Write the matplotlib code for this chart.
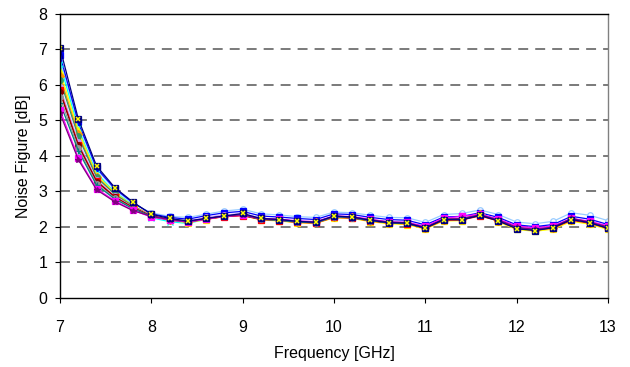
import matplotlib
matplotlib.use("Agg")
import matplotlib.pyplot as plt

plt.rcParams['font.family'] = ['Liberation Sans', 'DejaVu Sans']

# frequency sweep points [GHz]
freq = [7.0, 7.2, 7.4, 7.6, 7.8, 8.0, 8.2, 8.4, 8.6, 8.8,
        9.0, 9.2, 9.4, 9.6, 9.8, 10.0, 10.2, 10.4, 10.6, 10.8,
        11.0, 11.2, 11.4, 11.6, 11.8, 12.0, 12.2, 12.4, 12.6, 12.8, 13.0]

# noise figure [dB] per measured device
nf_01 = [7.05, 5.05, 3.72, 3.11, 2.70, 2.36, 2.24, 2.17, 2.24, 2.31, 2.38, 2.24, 2.21, 2.16, 2.13, 2.31,
         2.28, 2.19, 2.12, 2.11, 1.97, 2.21, 2.20, 2.33, 2.17, 1.95, 1.90, 1.98, 2.21, 2.12, 1.96]
nf_02 = [5.30, 3.95, 3.08, 2.74, 2.47, 2.28, 2.20, 2.14, 2.22, 2.30, 2.33, 2.24, 2.22, 2.17, 2.15, 2.31,
         2.29, 2.22, 2.14, 2.13, 2.02, 2.25, 2.30, 2.36, 2.22, 2.03, 1.97, 2.03, 2.24, 2.16, 2.03]
nf_03 = [6.40, 4.72, 3.47, 2.96, 2.60, 2.32, 2.19, 2.12, 2.21, 2.30, 2.33, 2.20, 2.17, 2.12, 2.10, 2.26,
         2.24, 2.15, 2.09, 2.07, 1.94, 2.17, 2.18, 2.40, 2.14, 1.93, 1.88, 1.94, 2.16, 2.08, 1.93]
nf_04 = [6.60, 4.78, 3.52, 2.98, 2.62, 2.26, 2.15, 2.10, 2.22, 2.30, 2.34, 2.22, 2.19, 2.14, 2.12, 2.28,
         2.26, 2.17, 2.11, 2.09, 1.97, 2.20, 2.21, 2.32, 2.18, 1.97, 1.92, 1.98, 2.19, 2.11, 1.97]
nf_05 = [5.20, 3.90, 3.05, 2.71, 2.46, 2.30, 2.21, 2.15, 2.24, 2.31, 2.34, 2.23, 2.21, 2.16, 2.14, 2.30,
         2.28, 2.20, 2.14, 2.12, 1.99, 2.22, 2.24, 2.34, 2.20, 1.99, 1.93, 2.00, 2.24, 2.14, 2.00]
nf_06 = [5.80, 4.30, 3.28, 2.84, 2.54, 2.31, 2.21, 2.15, 2.23, 2.30, 2.33, 2.22, 2.20, 2.15, 2.13, 2.29,
         2.26, 2.18, 2.12, 2.10, 1.97, 2.21, 2.22, 2.33, 2.19, 1.97, 1.92, 1.99, 2.21, 2.13, 1.98]
nf_07 = [5.50, 4.15, 3.18, 2.79, 2.51, 2.30, 2.20, 2.14, 2.23, 2.31, 2.34, 2.22, 2.19, 2.14, 2.12, 2.29,
         2.26, 2.18, 2.12, 2.10, 1.97, 2.21, 2.22, 2.34, 2.19, 1.98, 1.92, 1.99, 2.23, 2.13, 1.97]
nf_08 = [6.85, 4.95, 3.66, 3.08, 2.68, 2.37, 2.27, 2.22, 2.32, 2.40, 2.44, 2.31, 2.28, 2.24, 2.21, 2.37,
         2.35, 2.27, 2.21, 2.19, 2.06, 2.28, 2.30, 2.40, 2.27, 2.06, 2.01, 2.07, 2.30, 2.22, 2.07]
nf_09 = [5.95, 4.40, 3.33, 2.87, 2.56, 2.33, 2.23, 2.17, 2.27, 2.34, 2.38, 2.25, 2.22, 2.17, 2.15, 2.32,
         2.29, 2.21, 2.15, 2.13, 2.00, 2.24, 2.25, 2.37, 2.22, 2.00, 1.95, 2.02, 2.25, 2.16, 2.02]
nf_10 = [5.65, 4.22, 3.22, 2.81, 2.52, 2.29, 2.19, 2.14, 2.23, 2.31, 2.35, 2.22, 2.19, 2.14, 2.12, 2.28,
         2.26, 2.18, 2.12, 2.10, 1.98, 2.21, 2.23, 2.35, 2.19, 1.98, 1.93, 2.00, 2.22, 2.13, 1.99]
nf_11 = [5.85, 4.32, 3.30, 2.85, 2.55, 2.31, 2.20, 2.14, 2.22, 2.29, 2.32, 2.21, 2.18, 2.13, 2.11, 2.27,
         2.25, 2.17, 2.11, 2.09, 1.96, 2.19, 2.20, 2.31, 2.17, 1.96, 1.91, 1.97, 2.19, 2.11, 1.96]
nf_12 = [6.25, 4.62, 3.42, 2.93, 2.59, 2.33, 2.21, 2.15, 2.24, 2.32, 2.36, 2.23, 2.20, 2.15, 2.13, 2.29,
         2.27, 2.18, 2.12, 2.10, 1.97, 2.20, 2.22, 2.36, 2.18, 1.97, 1.92, 1.98, 2.20, 2.12, 1.97]
nf_13 = [6.15, 4.55, 3.40, 2.92, 2.58, 2.32, 2.21, 2.15, 2.24, 2.32, 2.35, 2.23, 2.20, 2.15, 2.13, 2.29,
         2.27, 2.19, 2.13, 2.11, 1.98, 2.21, 2.23, 2.35, 2.20, 1.98, 1.93, 2.00, 2.23, 2.14, 1.99]
nf_14 = [6.75, 4.90, 3.62, 3.05, 2.66, 2.40, 2.30, 2.27, 2.36, 2.45, 2.50, 2.37, 2.34, 2.29, 2.27, 2.42,
         2.40, 2.33, 2.27, 2.26, 2.13, 2.35, 2.38, 2.48, 2.35, 2.14, 2.09, 2.16, 2.40, 2.33, 2.18]

devices = [nf_14, nf_08, nf_04, nf_03, nf_12, nf_13, nf_09, nf_11,
           nf_06, nf_10, nf_07, nf_02, nf_05, nf_01]
colors = ['#99CCFF', '#0000FF', '#00FFFF', '#FFFF00', '#FF9900', '#339966', '#CC99FF', '#FF0000',
          '#800000', '#969696', '#008080', '#FF00FF', '#800080', '#000080']
markers = ['o', 's', 'x', '^', 'D', 'o', 'o', 's', 'o', 'o', '+', 's', '*', 's']

fig = plt.figure(figsize=(6.3, 3.67), dpi=100)
ax = fig.add_axes([0.0952, 0.188, 0.8698, 0.774])

for nf, c, m in zip(devices, colors, markers):
    face = 'white' if c == '#99CCFF' else c
    ax.plot(freq, nf, color=c, lw=0.9, marker=m, ms=4.0, mfc=face, mec=c, mew=0.9)
# yellow cross drawn over the navy squares of the last device
ax.plot(freq, nf_01, ls='none', marker='x', ms=3.4, mec='#FFFF00', mew=1.1)

ax.set_xlim(7, 13)
ax.set_ylim(0, 8)
ax.set_xticks([7, 8, 9, 10, 11, 12, 13])
ax.set_yticks(range(0, 9))
for y in range(1, 9):
    ax.axhline(y, color='#707070', lw=1.3, ls=(0, (5.5, 3.9)), zorder=0)

for side in ['left', 'bottom', 'top']:
    ax.spines[side].set_color('black')
    ax.spines[side].set_linewidth(1.0)
ax.spines['right'].set_color('#808080')
ax.spines['right'].set_linewidth(1.0)

ax.tick_params(axis='both', direction='out', length=3.6, width=0.8, labelsize=11.5)
ax.tick_params(axis='x', pad=12)
ax.tick_params(axis='y', pad=5.5)
ax.set_xlabel('Frequency [GHz]', fontsize=11.5)
ax.set_ylabel('Noise Figure [dB]', fontsize=11.5)
ax.xaxis.set_label_coords(0.5, -0.168)
ax.yaxis.set_label_coords(-0.052, 0.5)

fig.savefig('out.png', dpi=100)
